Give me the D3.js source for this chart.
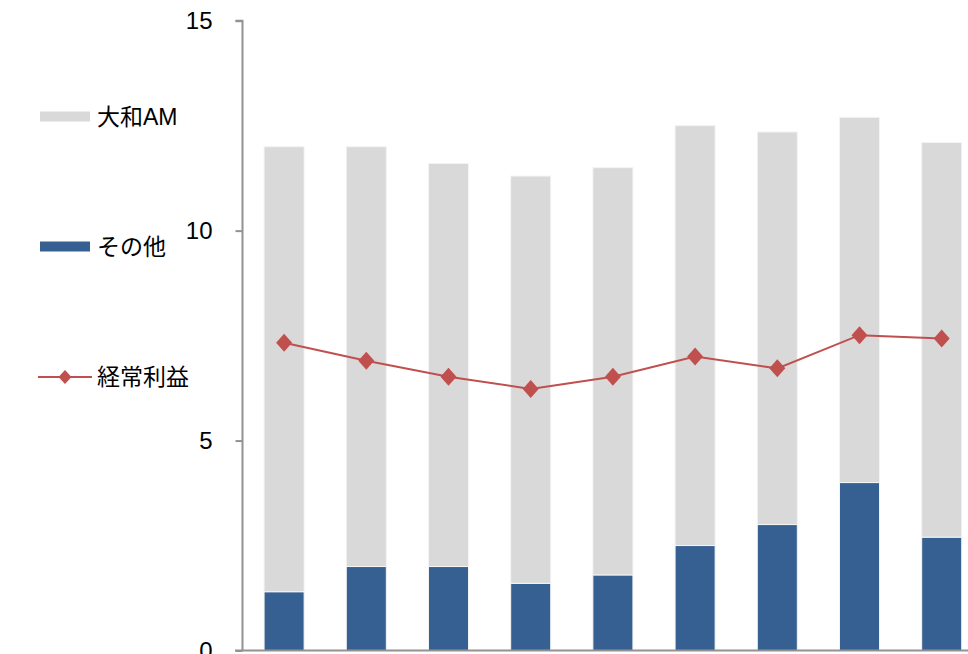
<!DOCTYPE html>
<html><head><meta charset="utf-8">
<script src="https://cdn.jsdelivr.net/npm/d3@7"></script>
<style>
html,body{margin:0;padding:0;background:#fff;}
text{font-family:"Liberation Sans",Arial,"Noto Sans CJK JP",sans-serif;fill:#000;}
</style></head>
<body>
<svg id="c" width="968" height="654"></svg>
<script>
const categories = ["1","2","3","4","5","6","7","8","9"];
const otherValues = [1.4, 2.0, 2.0, 1.6, 1.8, 2.5, 3.0, 4.0, 2.7];
const daiwaValues = [10.6, 10.0, 9.6, 9.7, 9.7, 10.0, 9.35, 8.7, 9.4];
const profitValues = [7.33, 6.9, 6.52, 6.23, 6.52, 7.0, 6.72, 7.51, 7.43];
const yTicks = [0, 5, 10, 15];
const seriesNames = ["大和AM", "その他", "経常利益"];

const colors = {daiwa:"#d9d9d9", other:"#376092", profit:"#c0504d", axis:"#929292"};
const svg = d3.select("#c");

const y = d3.scaleLinear().domain([0, 15]).range([650.5, 20.7]);
const x = d3.scaleBand().domain(categories).range([243, 243 + 9*82.2])
  .paddingInner(0.513).paddingOuter(0.2565);

// bars
const stackData = categories.map((c,i)=>({cat:c, other:otherValues[i], daiwa:daiwaValues[i]}));
const stack = d3.stack().keys(["other","daiwa"])(stackData);
const fills = {other:colors.other, daiwa:colors.daiwa};
svg.append("g").selectAll("g").data(stack).join("g")
  .attr("fill", d=>fills[d.key])
  .selectAll("rect").data(d=>d).join("rect")
  .attr("x", d=>x(d.data.cat))
  .attr("width", x.bandwidth())
  .attr("y", d=>y(d[1]))
  .attr("height", d=>y(d[0])-y(d[1]))
  .attr("stroke", "#f4f4f4").attr("stroke-width", 1);

// y axis
const yAxis = d3.axisLeft(y).tickValues(yTicks).tickSize(7).tickPadding(23).tickFormat(d3.format("d"));
const ga = svg.append("g").attr("transform","translate(242.5,0)").call(yAxis);
ga.select(".domain").attr("stroke", colors.axis).attr("stroke-width", 2).attr("d", `M-7,${y(15)}H0V${y(0)}`);
ga.selectAll(".tick line").attr("stroke", colors.axis).attr("stroke-width", 2);
ga.selectAll(".tick text").attr("font-size", 24).attr("font-family", "Liberation Sans, Arial, sans-serif").attr("fill","#000");

// x axis line
svg.append("line").attr("x1", 235).attr("x2", 968).attr("y1", y(0)).attr("y2", y(0))
  .attr("stroke", colors.axis).attr("stroke-width", 2);

// line
const cx = c => x(c) + x.bandwidth()/2;
const line = d3.line().x((d,i)=>cx(categories[i])).y(d=>y(d));
svg.append("path").datum(profitValues).attr("d", line)
  .attr("fill","none").attr("stroke", colors.profit).attr("stroke-width", 2);
const diamond = (w,h) => `M0,${-h}L${w},0L0,${h}L${-w},0Z`;
svg.append("g").selectAll("path").data(profitValues).join("path")
  .attr("transform", (d,i)=>`translate(${cx(categories[i])},${y(d)})`)
  .attr("d", diamond(8,9)).attr("fill", colors.profit);

// legend
const lg = svg.append("g");
lg.append("rect").attr("x",40).attr("y",111.5).attr("width",50).attr("height",10).attr("fill",colors.daiwa);
lg.append("rect").attr("x",40).attr("y",241.5).attr("width",50).attr("height",10).attr("fill",colors.other);
lg.append("line").attr("x1",38).attr("x2",92).attr("y1",377).attr("y2",377).attr("stroke",colors.profit).attr("stroke-width",2);
lg.append("path").attr("transform","translate(65,377)").attr("d",diamond(6.5,7)).attr("fill",colors.profit);
const ly = [117, 247, 377];
seriesNames.forEach((n,i)=>{
  lg.append("text").attr("x",97).attr("y",ly[i]).attr("dy","0.35em").attr("font-size",23).text(n);
});
</script>
</body></html>
